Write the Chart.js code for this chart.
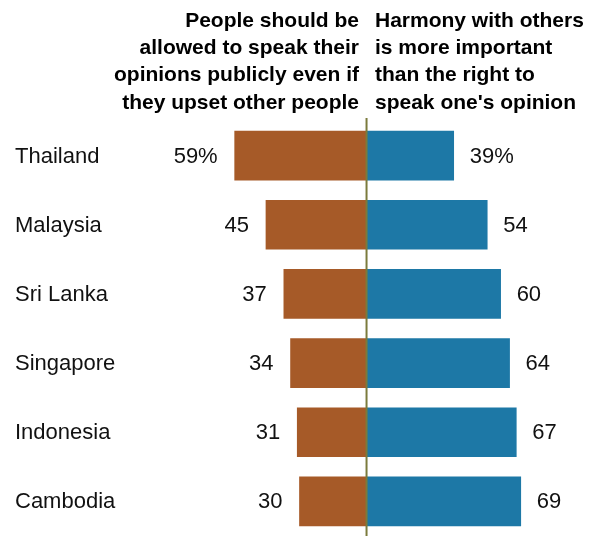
<!DOCTYPE html>
<html lang="en">
<head>
    <meta charset="UTF-8">
    <script src="https://cdn.jsdelivr.net/npm/chart.js"></script>
    <style>
        body { margin: 0; padding: 0; background: #fff; }
        .chart-container { position: relative; width: 603px; height: 536px; }
    </style>
</head>
<body>
    <div class="chart-container">
        <canvas id="mainChart"></canvas>
    </div>
    <script>
        const countries = ['Thailand', 'Malaysia', 'Sri Lanka', 'Singapore', 'Indonesia', 'Cambodia'];
        const speakOpinions = [59, 45, 37, 34, 31, 30];
        const harmony = [39, 54, 60, 64, 67, 69];
        const leftHeader = ['People should be', 'allowed to speak their', 'opinions publicly even if', 'they upset other people'];
        const rightHeader = ['Harmony with others', 'is more important', 'than the right to', "speak one's opinion"];

        const brown = '#a65a28';
        const blue = '#1d78a6';

        // labels, header and the center line
        const decorations = {
            id: 'decorations',
            afterDatasetsDraw(chart) {
                const c = chart.ctx;
                const x = chart.scales.x;
                const y = chart.scales.y;
                const zero = x.getPixelForValue(0);
                c.save();

                c.strokeStyle = '#7b7b3c';
                c.lineWidth = 2;
                c.beginPath();
                c.moveTo(zero, 118);
                c.lineTo(zero, 536);
                c.stroke();

                c.fillStyle = '#000';
                c.font = 'bold 21px "Liberation Sans", Arial, sans-serif';
                c.textBaseline = 'middle';
                leftHeader.forEach((t, i) => {
                    c.textAlign = 'right';
                    c.fillText(t, 359, 21 + i * 27.3);
                });
                rightHeader.forEach((t, i) => {
                    c.textAlign = 'left';
                    c.fillText(t, 375, 21 + i * 27.3);
                });

                c.font = '22px "Liberation Sans", Arial, sans-serif';
                countries.forEach((name, i) => {
                    const py = y.getPixelForValue(i) + 1;
                    c.fillStyle = '#111';
                    c.textAlign = 'left';
                    c.fillText(name, 15, py);
                    const suffix = i === 0 ? '%' : '';
                    c.textAlign = 'right';
                    c.fillText(speakOpinions[i] + suffix, x.getPixelForValue(-speakOpinions[i]) - 17, py);
                    c.textAlign = 'left';
                    c.fillText(harmony[i] + suffix, x.getPixelForValue(harmony[i]) + 16, py);
                });
                c.restore();
            }
        };

        new Chart(document.getElementById('mainChart'), {
            type: 'bar',
            data: {
                labels: countries,
                datasets: [
                    {
                        label: 'Speak opinions',
                        data: speakOpinions.map(v => -v),
                        backgroundColor: brown,
                        barThickness: 49
                    },
                    {
                        label: 'Harmony',
                        data: harmony,
                        backgroundColor: blue,
                        barThickness: 49
                    }
                ]
            },
            options: {
                indexAxis: 'y',
                responsive: true,
                maintainAspectRatio: false,
                animation: false,
                layout: { padding: { top: 121, left: 0, right: 0, bottom: 0 } },
                scales: {
                    x: { stacked: true, min: -164, max: 105.8, display: false },
                    y: { stacked: true, display: false, offset: true }
                },
                plugins: {
                    legend: { display: false },
                    tooltip: { enabled: false }
                }
            },
            plugins: [decorations]
        });
    </script>
</body>
</html>
